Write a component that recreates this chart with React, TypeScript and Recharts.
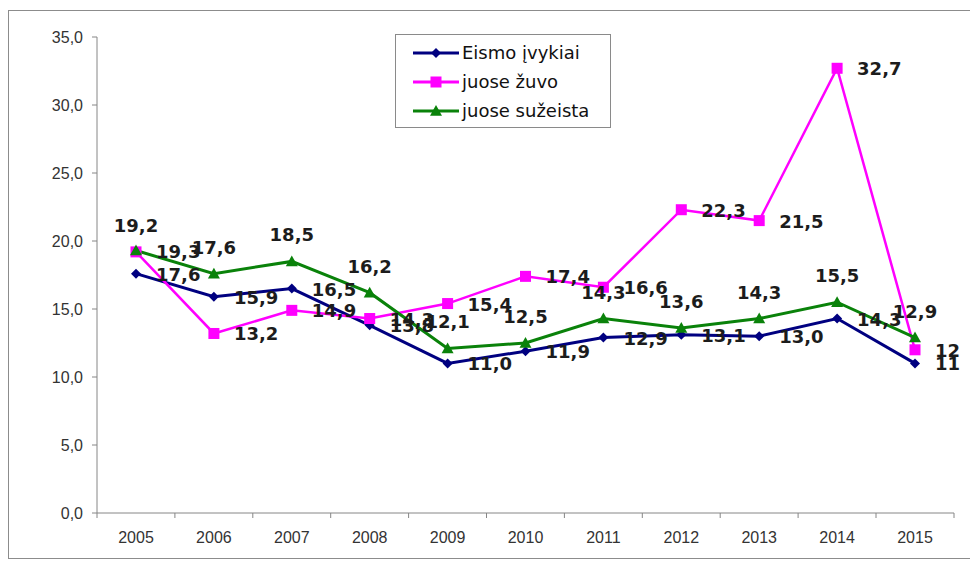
import React from "react";
import { LabelList, Line, LineChart, XAxis, YAxis } from "recharts";

const years = ["2005", "2006", "2007", "2008", "2009", "2010", "2011", "2012", "2013", "2014", "2015"];

const eismoIvykiai = [17.6, 15.9, 16.5, 13.8, 11.0, 11.9, 12.9, 13.1, 13.0, 14.3, 11];
const juoseZuvo = [19.2, 13.2, 14.9, 14.3, 15.4, 17.4, 16.6, 22.3, 21.5, 32.7, 12];
const juoseSuzeista = [19.3, 17.6, 18.5, 16.2, 12.1, 12.5, 14.3, 13.6, 14.3, 15.5, 12.9];

// label text as printed on the chart (2015 values are shown without decimals for two series)
const eismoLabels = ["17,6", "15,9", "16,5", "13,8", "11,0", "11,9", "12,9", "13,1", "13,0", "14,3", "11"];
const zuvoLabels = ["19,2", "13,2", "14,9", "14,3", "15,4", "17,4", "16,6", "22,3", "21,5", "32,7", "12"];
const suzeistaLabels = ["19,3", "17,6", "18,5", "16,2", "12,1", "12,5", "14,3", "13,6", "14,3", "15,5", "12,9"];

const yTicks = [0, 5, 10, 15, 20, 25, 30, 35];

const NAVY = "#000080";
const MAGENTA = "#ff00ff";
const GREEN = "#0a820a";
const AXIS = "#868686";

const W = 967;
const H = 547;
const MARGIN = { top: 26, right: 22, left: 0, bottom: 0 };
const X_AXIS_H = 45;
const AXIS_Y = H - MARGIN.bottom - X_AXIS_H;
const HALF_BAND = 39;

const data = years.map((year, i) => ({
  year,
  eismo: eismoIvykiai[i],
  zuvo: juoseZuvo[i],
  suzeista: juoseSuzeista[i],
}));

const labelFont = {
  fontFamily: "'DejaVu Sans', sans-serif",
  fontSize: 18,
  fontWeight: 700,
  fill: "#1c1c1c",
};

const makeLabel = (texts: string[], placeAbove: (i: number) => boolean) => (props: any) => {
  const { x, y, index } = props;
  if (placeAbove(index)) {
    return (
      <text x={x} y={y - 20} textAnchor="middle" style={labelFont}>
        {texts[index]}
      </text>
    );
  }
  return (
    <text x={x + 20} y={y + 7} textAnchor="start" style={labelFont}>
      {texts[index]}
    </text>
  );
};

const Diamond = ({ cx, cy, size = 5 }: { cx: number; cy: number; size?: number }) => (
  <path d={`M${cx},${cy - size}L${cx + size},${cy}L${cx},${cy + size}L${cx - size},${cy}Z`} fill={NAVY} />
);
const Square = ({ cx, cy, size = 5.5 }: { cx: number; cy: number; size?: number }) => (
  <rect x={cx - size} y={cy - size} width={size * 2} height={size * 2} fill={MAGENTA} />
);
const Triangle = ({ cx, cy, size = 6 }: { cx: number; cy: number; size?: number }) => (
  <path d={`M${cx},${cy - size}L${cx + size},${cy + size * 0.8}L${cx - size},${cy + size * 0.8}Z`} fill={GREEN} />
);

const diamondDot = (p: any) => <Diamond key={`d-${p.index}`} cx={p.cx} cy={p.cy} />;
const squareDot = (p: any) => <Square key={`s-${p.index}`} cx={p.cx} cy={p.cy} />;
const triangleDot = (p: any) => <Triangle key={`t-${p.index}`} cx={p.cx} cy={p.cy} />;

const XTick = (props: any) => {
  const { x, payload, index } = props;
  const last = index === years.length - 1;
  return (
    <g>
      <line x1={x - HALF_BAND} x2={x - HALF_BAND} y1={AXIS_Y} y2={AXIS_Y + 5} stroke={AXIS} />
      {last && <line x1={x + HALF_BAND} x2={x + HALF_BAND} y1={AXIS_Y} y2={AXIS_Y + 5} stroke={AXIS} />}
      <text
        x={x}
        y={AXIS_Y + 30}
        textAnchor="middle"
        style={{ fontFamily: "'Liberation Sans', Arial, sans-serif", fontSize: 16, fill: "#333" }}
      >
        {payload.value}
      </text>
    </g>
  );
};

const legendItems = [
  { name: "Eismo įvykiai", color: NAVY, marker: "diamond" },
  { name: "juose žuvo", color: MAGENTA, marker: "square" },
  { name: "juose sužeista", color: GREEN, marker: "triangle" },
];

const ChartLegend = () => (
  <div
    style={{
      position: "absolute",
      left: 386,
      top: 23,
      boxSizing: "border-box",
      width: 216,
      height: 94,
      border: "1px solid #8a8a8a",
      background: "#fff",
      paddingTop: 3,
    }}
  >
    {legendItems.map((item) => (
      <div key={item.name} style={{ display: "flex", alignItems: "center", height: 29 }}>
        <svg width={66} height={16} style={{ display: "block" }}>
          <line x1={17} x2={63} y1={8} y2={8} stroke={item.color} strokeWidth={3} />
          {item.marker === "diamond" && <Diamond cx={40} cy={8} />}
          {item.marker === "square" && <Square cx={40} cy={8} />}
          {item.marker === "triangle" && <Triangle cx={40} cy={8} />}
        </svg>
        <span style={{ fontFamily: "'DejaVu Sans', sans-serif", fontSize: 18, color: "#111", lineHeight: "20px" }}>
          {item.name}
        </span>
      </div>
    ))}
  </div>
);

export default function App() {
  return (
    <div
      style={{
        position: "relative",
        width: W,
        height: H,
        marginTop: 2,
        border: "1px solid #8c8c8c",
        background: "#fff",
      }}
    >
      <LineChart width={W} height={H} data={data} margin={MARGIN}>
        <XAxis
          dataKey="year"
          height={X_AXIS_H}
          padding={{ left: HALF_BAND, right: HALF_BAND }}
          axisLine={{ stroke: AXIS }}
          tickLine={false}
          tick={<XTick />}
          interval={0}
        />
        <YAxis
          width={88}
          domain={[0, 35]}
          ticks={yTicks}
          interval={0}
          tickFormatter={(v: number) => v.toFixed(1).replace(".", ",")}
          axisLine={{ stroke: AXIS }}
          tickLine={{ stroke: AXIS }}
          tickSize={5}
          tickMargin={9}
          tick={{ fontFamily: "'Liberation Sans', Arial, sans-serif", fontSize: 16, fill: "#333" }}
        />
        <Line
          type="linear"
          dataKey="eismo"
          name="Eismo įvykiai"
          stroke={NAVY}
          strokeWidth={3}
          dot={diamondDot}
          activeDot={false}
          isAnimationActive={false}
        >
          <LabelList dataKey="eismo" content={makeLabel(eismoLabels, () => false)} />
        </Line>
        <Line
          type="linear"
          dataKey="zuvo"
          name="juose žuvo"
          stroke={MAGENTA}
          strokeWidth={2.5}
          dot={squareDot}
          activeDot={false}
          isAnimationActive={false}
        >
          <LabelList dataKey="zuvo" content={makeLabel(zuvoLabels, (i) => i === 0)} />
        </Line>
        <Line
          type="linear"
          dataKey="suzeista"
          name="juose sužeista"
          stroke={GREEN}
          strokeWidth={3}
          dot={triangleDot}
          activeDot={false}
          isAnimationActive={false}
        >
          <LabelList dataKey="suzeista" content={makeLabel(suzeistaLabels, (i) => i !== 0)} />
        </Line>
      </LineChart>
      <ChartLegend />
    </div>
  );
}
